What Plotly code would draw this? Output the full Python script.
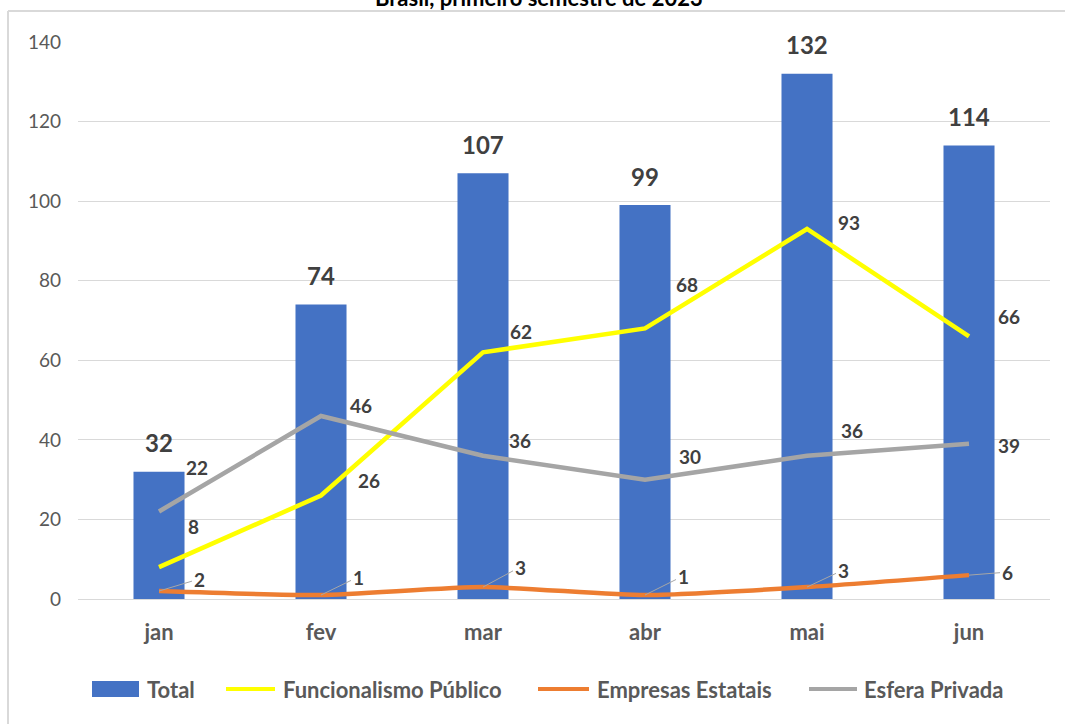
import plotly.graph_objects as go

# ---------------- data ----------------
months = ["jan", "fev", "mar", "abr", "mai", "jun"]
total = [32, 74, 107, 99, 132, 114]
funcionalismo = [8, 26, 62, 68, 93, 66]
estatais = [2, 1, 3, 1, 3, 6]
privada = [22, 46, 36, 30, 36, 39]
series_names = ["Total", "Funcionalismo Público", "Empresas Estatais", "Esfera Privada"]
y_ticks = [0, 20, 40, 60, 80, 100, 120, 140]
title_text = "Brasil, primeiro semestre de 2023"

# ---------------- styles ----------------
W, H = 1065, 724
ML, MR, MT, MB = 78, 15, 42, 125
PW, PH = W - ML - MR, H - MT - MB
FONT = "Lato"
C_BAR = "#4472C4"
C_YEL = "#FFFF00"
C_ORA = "#ED7D31"
C_GRY = "#A5A5A5"
C_TXT = "#404040"
C_AX = "#595959"
C_GRID = "#D9D9D9"


def px_x(px):
    return (px - ML) / PW


def px_y(py):
    return (H - MB - py) / PH


# label offsets in pixels (dx right, dy down) relative to the data point
off_yel = [(34, -41), (48, -15), (38, -21), (42, -44), (42, -6), (40, -20)]
off_gry = [(38, -44), (40, -10), (37, -15), (45, -23), (45, -25), (40, 2)]
off_ora = [(40, -12), (37, -18), (37, -20), (38, -19), (36, -17), (38, -3)]

fig = go.Figure()
fig.add_trace(go.Bar(x=months, y=total, name=series_names[0], marker_color=C_BAR,
                     marker_line_width=0, width=0.315, showlegend=False))
fig.add_trace(go.Scatter(x=months, y=funcionalismo, name=series_names[1], mode="lines",
                         line=dict(color=C_YEL, width=4.5), showlegend=False))
fig.add_trace(go.Scatter(x=months, y=estatais, name=series_names[2], mode="lines",
                         line=dict(color=C_ORA, width=4.5, shape="spline", smoothing=0.6),
                         showlegend=False))
fig.add_trace(go.Scatter(x=months, y=privada, name=series_names[3], mode="lines",
                         line=dict(color=C_GRY, width=4.5), showlegend=False))

ann = []
for m, v in zip(months, total):
    ann.append(dict(x=m, y=v, text=str(v), showarrow=False, yanchor="middle",
                    yshift=29, font=dict(family=FONT, size=24, color=C_TXT, weight="bold")))
for vals, offs in ((funcionalismo, off_yel), (privada, off_gry)):
    for m, v, (dx, dy) in zip(months, vals, offs):
        ann.append(dict(x=m, y=v, text=str(v), showarrow=False, xanchor="center",
                        yanchor="middle", xshift=dx, yshift=-dy,
                        font=dict(family=FONT, size=19, color=C_TXT, weight="bold")))
for m, v, (dx, dy) in zip(months, estatais, off_ora):
    ann.append(dict(x=m, y=v, text=str(v), showarrow=True, arrowhead=0, arrowwidth=1,
                    arrowcolor="#A6A6A6", ax=dx, ay=dy, standoff=0, startstandoff=0,
                    font=dict(family=FONT, size=19, color=C_TXT, weight="bold")))

# title (cropped at top in the reference)
ann.append(dict(x=px_x(539), y=px_y(-3), xref="paper", yref="paper", text=title_text,
                showarrow=False, xanchor="center", yanchor="middle",
                font=dict(family=FONT, size=22, color="#000000", weight="bold")))

# manual legend
shapes = []
leg_y = 689
shapes.append(dict(type="rect", xref="paper", yref="paper", x0=px_x(92), x1=px_x(139),
                   y0=px_y(697), y1=px_y(681), fillcolor=C_BAR, line=dict(width=0)))
for (x0, x1), c in zip([(226, 275), (538, 589), (809, 857)], [C_YEL, C_ORA, C_GRY]):
    shapes.append(dict(type="line", xref="paper", yref="paper", x0=px_x(x0), x1=px_x(x1),
                       y0=px_y(leg_y), y1=px_y(leg_y), line=dict(color=c, width=4)))
for name, tx in zip(series_names, [145, 281, 595, 862]):
    ann.append(dict(x=px_x(tx), y=px_y(leg_y), xref="paper", yref="paper", text=name,
                    showarrow=False, xanchor="left", yanchor="middle",
                    font=dict(family=FONT, size=22, color=C_AX, weight="bold")))

# outer frame (cropped on right and bottom): left and top edges only
shapes.append(dict(type="line", xref="paper", yref="paper", x0=px_x(8), x1=px_x(8),
                   y0=px_y(H), y1=px_y(11), line=dict(color=C_GRID, width=2), layer="below"))
shapes.append(dict(type="line", xref="paper", yref="paper", x0=px_x(8), x1=px_x(W),
                   y0=px_y(11), y1=px_y(11), line=dict(color=C_GRID, width=2), layer="below"))

fig.update_layout(
    width=W, height=H,
    margin=dict(l=ML, r=MR, t=MT, b=MB),
    paper_bgcolor="white", plot_bgcolor="white",
    font=dict(family=FONT, color=C_AX),
    annotations=ann, shapes=shapes,
    showlegend=False,
    xaxis=dict(type="category", showgrid=False, showline=True, linecolor=C_GRID,
               linewidth=1, ticks="", ticklabelstandoff=14,
               tickfont=dict(family=FONT, size=22, color=C_AX, weight="bold")),
    yaxis=dict(range=[0, 140], tickvals=y_ticks, showgrid=True, gridcolor=C_GRID,
               gridwidth=1, zeroline=False, showline=False, ticks="",
               ticklabelstandoff=16,
               tickfont=dict(family=FONT, size=19, color=C_AX)),
)

fig.write_html("out.html")
